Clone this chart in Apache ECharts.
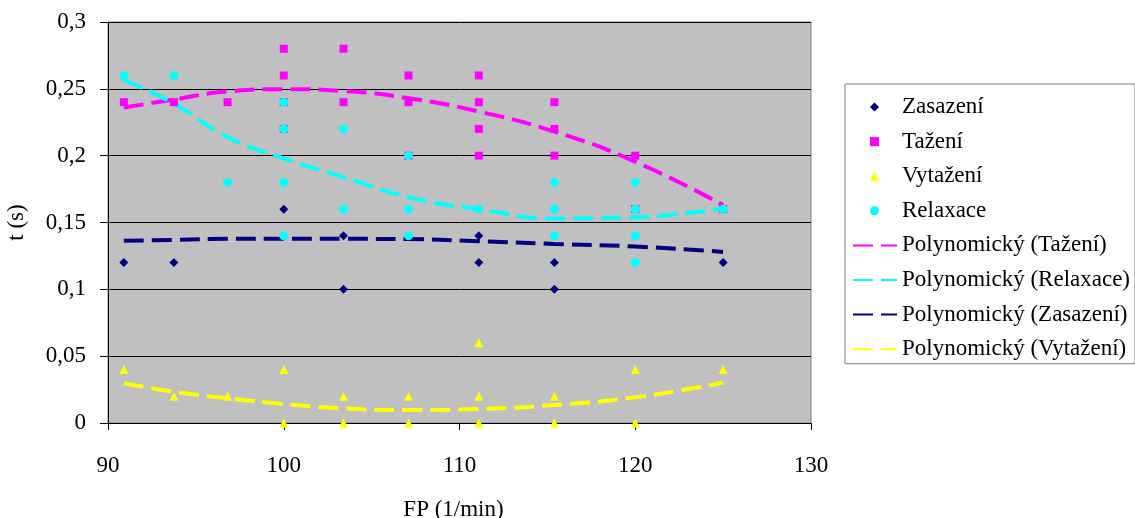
<!DOCTYPE html>
<head>
    <meta charset="utf-8">
    <title>FP - t</title>
    <script src="https://cdn.jsdelivr.net/npm/echarts@6/dist/echarts.min.js"></script>
    <style>
      body { margin: 0; background: #fff; }
    </style>
</head>
<body>
    <div id="main" style="width:1135px;height:518px"></div>
    <script type="text/javascript">
      // FP values (1/min), one per column of points
      var fp = [90.9, 93.75, 96.8, 100, 103.4, 107.1, 111.1, 115.4, 120, 125];

      // measured times at each FP (several per column, some empty)
      var zasazeni = [[0.12], [0.12], [], [0.16], [0.14, 0.1], [], [0.14, 0.12], [0.12, 0.1], [], [0.12]];
      var tazeni = [[0.24], [0.24], [0.24], [0.28, 0.26, 0.24, 0.22], [0.28, 0.24], [0.26, 0.24, 0.2],
                    [0.26, 0.24, 0.22, 0.2], [0.24, 0.22, 0.2], [0.2, 0.16], [0.16]];
      var vytazeni = [[0.04], [0.02], [0.02], [0.04, 0], [0.02, 0], [0.02, 0], [0.06, 0.02, 0],
                      [0.02, 0], [0.04, 0], [0.04]];
      var relaxace = [[0.26], [0.26], [0.18], [0.24, 0.22, 0.18, 0.14], [0.22, 0.16], [0.2, 0.16, 0.14],
                      [0.16], [0.18, 0.16, 0.14], [0.18, 0.16, 0.14, 0.12], [0.16]];

      // trend curves at the same FP values
      var trendTazeni = [0.236, 0.242, 0.248, 0.2497, 0.2484, 0.243, 0.233, 0.218, 0.1955, 0.163];
      var trendRelaxace = [0.2566, 0.239, 0.214, 0.198, 0.184, 0.169, 0.160, 0.153, 0.154, 0.1606];
      var trendZasazeni = [0.1364, 0.137, 0.1378, 0.1379, 0.1378, 0.1376, 0.136, 0.134, 0.132, 0.128];
      var trendVytazeni = [0.0297, 0.0234, 0.0185, 0.0142, 0.011, 0.0097, 0.0105, 0.0135, 0.0192, 0.0302];

      var pointNames = ['Zasazení', 'Tažení', 'Vytažení', 'Relaxace'];
      var trendNames = ['Polynomický (Tažení)', 'Polynomický (Relaxace)',
                        'Polynomický (Zasazení)', 'Polynomický (Vytažení)'];

      function pts(cols) {
        var out = [];
        for (var i = 0; i < cols.length; i++) {
          for (var j = 0; j < cols[i].length; j++) {
            out.push([fp[i], cols[i][j]]);
          }
        }
        return out;
      }
      function curve(vals) {
        var out = [];
        for (var i = 0; i < vals.length; i++) out.push([fp[i], vals[i]]);
        return out;
      }

      var font = 'Liberation Serif';
      var fs = 23;
      var rowGap = 11.6;
      var myChart = echarts.init(document.getElementById('main'));

      function dots(name, sym, size, color, data) {
        return { name: name, type: 'scatter', symbol: sym, symbolSize: size, z: 3,
                 itemStyle: { color: color, opacity: 1 }, data: pts(data) };
      }
      function trend(name, color, data) {
        return { name: name, type: 'line', smooth: true, symbol: 'none', showSymbol: false, z: 2,
                 lineStyle: { color: color, width: 4, type: [20, 8] },
                 itemStyle: { color: color }, data: curve(data) };
      }

      var option = {
        animation: false,
        textStyle: { fontFamily: font },
        grid: {
          left: 108, top: 22, right: 324, bottom: 95,
          containLabel: false, outerBoundsMode: 'none',
          show: true, backgroundColor: '#c0c0c0', borderColor: '#808080', borderWidth: 1
        },
        legend: [
          {
            // box + trend lines (top padding leaves room for the marker rows)
            orient: 'vertical', left: 845, top: 84,
            padding: [11.5 + 4 * (fs + rowGap), 5, 3, 7], itemGap: rowGap,
            itemWidth: 44, itemHeight: 9,
            itemStyle: { opacity: 0 },
            borderColor: '#808080', borderWidth: 1,
            textStyle: { fontFamily: font, fontSize: fs, color: '#000' },
            data: trendNames
          },
          {
            orient: 'vertical', left: 870, top: 95.5,
            padding: 0, itemGap: rowGap,
            itemWidth: 9, itemHeight: 9,
            textStyle: { fontFamily: font, fontSize: fs, color: '#000', padding: [0, 0, 0, 18] },
            data: pointNames
          }
        ],
        xAxis: {
          type: 'value', min: 90, max: 130, interval: 10,
          name: 'FP (1/min)', nameLocation: 'middle', nameGap: 75,
          nameTextStyle: { fontFamily: font, fontSize: fs, color: '#000', padding: [0, 12, 0, 0] },
          axisLine: { lineStyle: { color: '#000' } },
          axisTick: { show: true, length: 7, lineStyle: { color: '#000' } },
          axisLabel: { margin: 31, fontFamily: font, fontSize: fs, color: '#000' },
          splitLine: { show: false }
        },
        yAxis: {
          type: 'value', min: 0, max: 0.3, interval: 0.05,
          name: 't (s)', nameLocation: 'middle', nameGap: 80,
          nameTextStyle: { fontFamily: font, fontSize: fs, color: '#000' },
          axisLine: { show: true, lineStyle: { color: '#000' } },
          axisTick: { show: true, length: 8, lineStyle: { color: '#000' } },
          axisLabel: {
            margin: 22, fontFamily: font, fontSize: fs, color: '#000',
            formatter: function (v) { return String(+v.toFixed(2)).replace('.', ','); }
          },
          splitLine: { show: true, lineStyle: { color: '#000', width: 1 } }
        },
        series: [
          dots('Zasazení', 'diamond', 9, '#000080', zasazeni),
          dots('Tažení', 'rect', 8, '#ff00ff', tazeni),
          dots('Vytažení', 'triangle', 9, '#ffff00', vytazeni),
          dots('Relaxace', 'circle', 9, '#00ffff', relaxace),
          trend(trendNames[0], '#ff00ff', trendTazeni),
          trend(trendNames[1], '#00ffff', trendRelaxace),
          trend(trendNames[2], '#000080', trendZasazeni),
          trend(trendNames[3], '#ffff00', trendVytazeni)
        ]
      };
      myChart.setOption(option);
    </script>
</body>
